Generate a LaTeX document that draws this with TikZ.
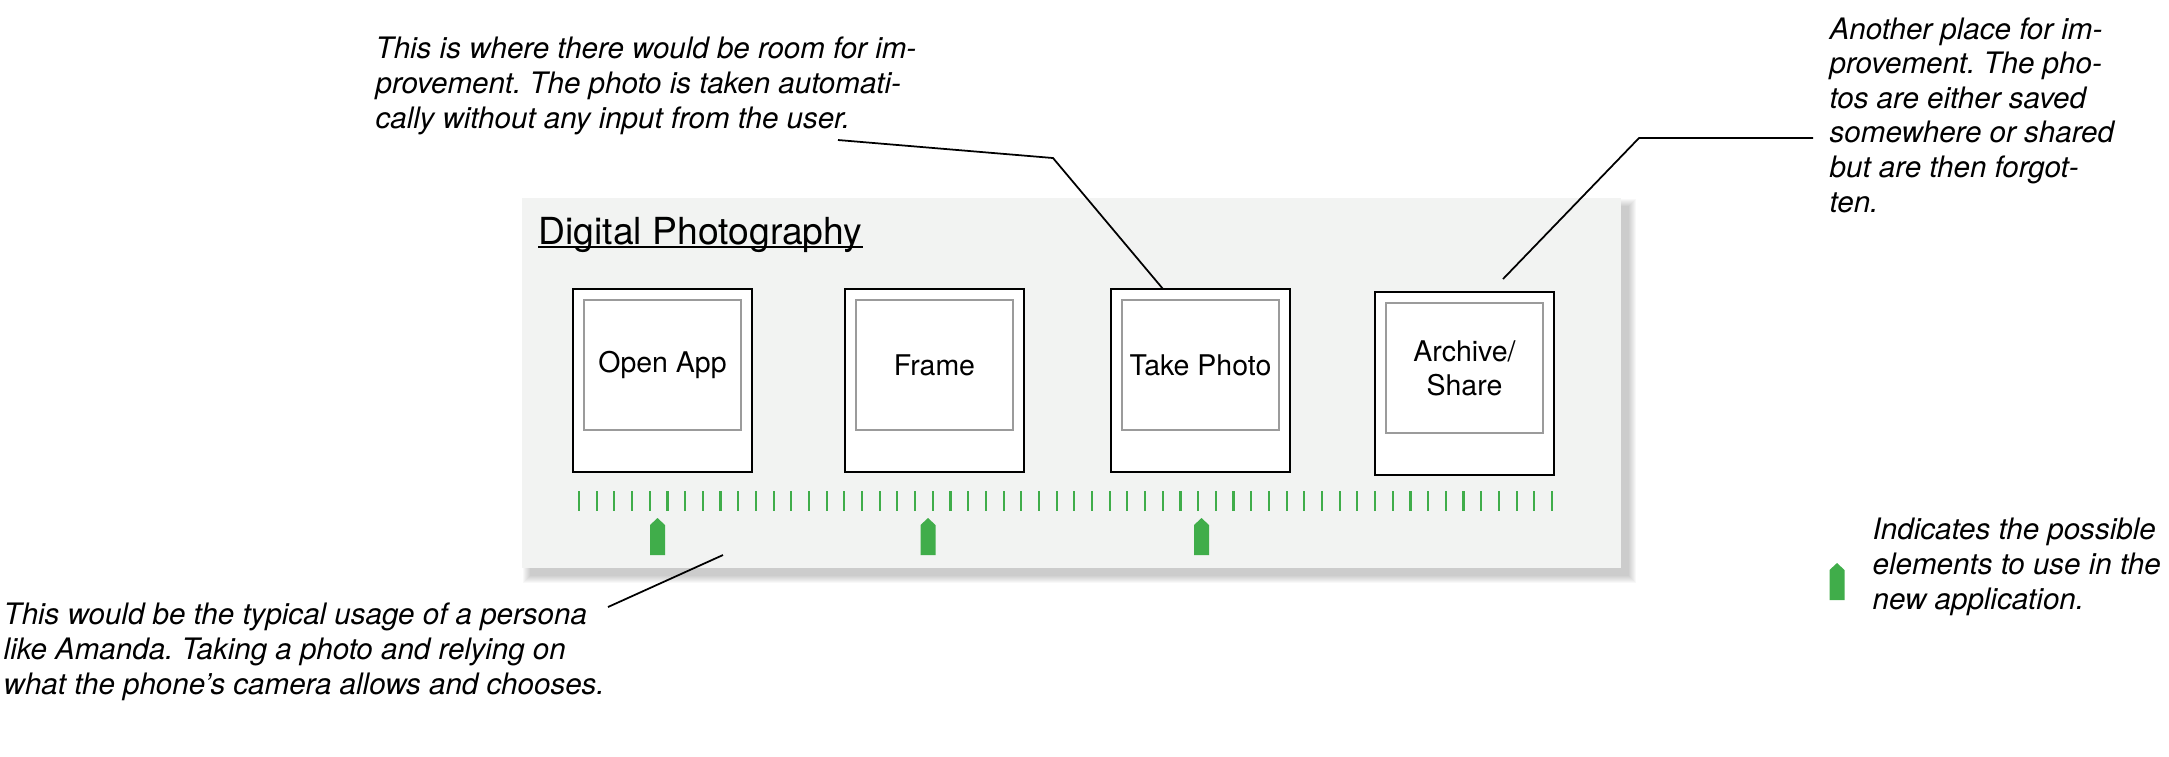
\documentclass[tikz,border=0pt]{standalone}
\usepackage{fontspec}
\setmainfont{TeX Gyre Heros}
\usetikzlibrary{positioning}
\frenchspacing

\definecolor{panelgray}{RGB}{242,243,242}
\definecolor{framegray}{RGB}{155,155,155}
\definecolor{tickgreen}{RGB}{64,173,74}

\tikzset{
  note/.style={anchor=base west, inner sep=0pt, align=left,
    font=\itshape\fontsize{8.4}{9.84}\selectfont},
  polaroid/.style={draw=black, line width=0.6pt, fill=white, inner sep=0pt,
    outer sep=0pt, minimum width=1.79cm, minimum height=1.83cm},
  photo/.style={draw=framegray, line width=0.5pt, fill=white, inner sep=0pt,
    outer sep=0pt, minimum width=1.57cm, minimum height=1.30cm, align=center,
    font=\fontsize{8.1}{9.7}\selectfont},
  leader/.style={line width=0.5pt},
  elemtag/.pic={\fill[tickgreen] (-7.5,37) -- (-7.5,7) -- (0,0) -- (7.5,7) -- (7.5,37) -- cycle;}
}

\begin{document}
\begin{tikzpicture}[x=0.01cm, y=-0.01cm]
	\useasboundingbox (0,0) rectangle (2169,756);
	% panel and its soft shadow
	\foreach \s in {0,...,7}
		\fill[black, opacity=0.026] (530-\s,206-\s) rectangle (1629+\s,576+\s);
	\fill[panelgray] (522,198) rectangle (1621,568);
	\node[anchor=base west, inner sep=0pt, font=\fontsize{10.6}{12}\selectfont] (title) at (538,244) {Digital Photography};
	\draw[line width=0.45pt] ([yshift=-0.03cm]title.base west) -- ([yshift=-0.03cm]title.base east);

	% the four steps
	\node[polaroid] (openbox) at (662.5,380.5) {};
	\node[polaroid] (framebox) at (934.5,380.5) {};
	\node[polaroid] (takebox) at (1200.5,380.5) {};
	\node[polaroid] (sharebox) at (1464.5,383.5) {};
	\node[photo, below=0.11cm of openbox.north] (openpic) {Open App};
	\node[photo, below=0.11cm of framebox.north] (framepic) {Frame};
	\node[photo, below=0.11cm of takebox.north] (takepic) {Take Photo};
	\node[photo, below=0.11cm of sharebox.north] (sharepic) {Archive/\\Share};

	% scale and possible elements
	\foreach \i in {0,...,55}
		\draw[tickgreen, line width=0.6pt] (579+17.69*\i,491) -- (579+17.69*\i,511);
	\foreach \x in {657.5,928,1201.5}
		\pic at (\x,518) {elemtag};
	\pic at (1837,563) {elemtag};

	% notes (placed by their last line)
	\node[note] (notetake) at (375,128) {This is where there would be room for im-\\provement. The photo is taken automati-\\cally without any input from the user.};
	\node[note] (noteshare) at (1829,212) {Another place for im-\\provement. The pho-\\tos are either saved\\somewhere or shared\\but are then forgot-\\ten.};
	\node[note] (noteusage) at (3,694) {This would be the typical usage of a persona\\like Amanda. Taking a photo and relying on\\what the phone’s camera allows and chooses.};
	\node[note] (notelegend) at (1872,609) {Indicates the possible\\elements to use in the\\new application.};

	% leaders
	\coordinate (takestart) at (838,140);
	\coordinate (takebend) at (1053,158);
	\draw[leader] (takestart) -- (takebend) -- ([xshift=-0.375cm]takebox.north);
	\coordinate (sharestart) at (1813,138);
	\coordinate (sharebend) at (1639,138);
	\coordinate (shareend) at (1503,279);
	\draw[leader] (sharestart) -- (sharebend) -- (shareend);
	\coordinate (usagestart) at (608,607);
	\coordinate (usageend) at (723,555);
	\draw[leader] (usagestart) -- (usageend);
\end{tikzpicture}
\end{document}
